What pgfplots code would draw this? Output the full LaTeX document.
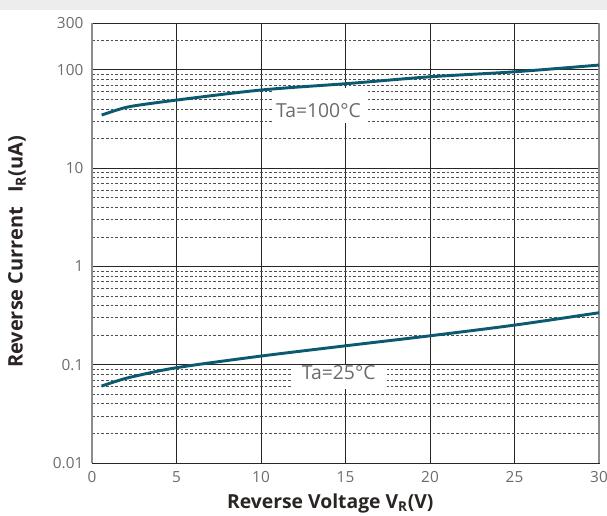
\documentclass[border=0pt]{standalone}
\usepackage{pgfplots}
\pgfplotsset{compat=1.18}
\usepackage{fontspec}
\setmainfont{Open Sans}
\definecolor{curve}{HTML}{0B5A70}
\definecolor{tickc}{HTML}{6E6A68}
\definecolor{gridd}{HTML}{2A2422}
\definecolor{gridm}{HTML}{505050}
\begin{document}
\begin{tikzpicture}[x=1pt,y=1pt]
\useasboundingbox (0,0) rectangle (455.25,386.25);
\fill[black!7] (0,378.75) rectangle (455.25,386.25);
\begin{axis}[
  at={(69pt,39pt)}, anchor=south west,
  scale only axis, width=380.25pt, height=330pt,
  xmin=0, xmax=30, ymode=log, ymin=0.01, ymax=300,
  xtick={0,5,...,30},
  ytick={0.01,0.1,1,10,100,300},
  yticklabels={0.01,0.1,1,10,100,300},
  minor ytick={0.02,0.03,0.04,0.05,0.06,0.07,0.08,0.09,
    0.2,0.3,0.4,0.5,0.6,0.7,0.8,0.9,2,3,4,5,6,7,8,9,
    20,30,40,50,60,70,80,90,200},
  major tick length=0pt, minor tick length=0pt,
  xmajorgrids, ymajorgrids, yminorgrids,
  major grid style={gridd, line width=0.6pt},
  minor grid style={gridm, line width=0.55pt, dash pattern=on 2pt off 1.5pt},
  axis line style={gridd, line width=0.6pt},
  tick label style={font=\fontsize{11.5}{13}\selectfont, text=tickc},
  /pgf/number format/assume math mode=true,
  yticklabel style={xshift=-3pt},
  xticklabel style={yshift=-3pt},
  xlabel={Reverse Voltage V\textsubscript{R}(V)},
  ylabel={Reverse Current\hspace{0.7em}I\textsubscript{R}(uA)},
  x label style={at={(axis description cs:0.47,-0.093)}, anchor=center,
    font=\bfseries\fontsize{14.5}{16}\selectfont, text=gridd},
  y label style={at={(axis description cs:-0.148,0.48)}, anchor=center, rotate=0,
    font=\bfseries\fontsize{15}{17}\selectfont, text=gridd},
  clip=false,
]
\draw[black!45, line width=1.1pt] (rel axis cs:0,0) -- (rel axis cs:0,1);
\draw[black!45, line width=0.8pt] (rel axis cs:1,0) -- (rel axis cs:1,1);
\node[fill=white, inner sep=0pt, minimum width=72pt, minimum height=26pt] at (axis cs:13.49,43.3) {};
\node[fill=white, inner sep=0pt, minimum width=71pt, minimum height=18pt] at (axis cs:14.64,0.075) {};
\addplot[curve, line width=2.2pt, smooth] coordinates {
  (0.57,34.7) (1.5,39.2) (2.4,42.8) (5,49.3) (10,62.4) (15.3,73) (20,85.1) (25,95.6) (30,112)};
\addplot[curve, line width=2.2pt, smooth] coordinates {
  (0.57,0.0607) (1.5,0.0685) (2.4,0.0755) (5,0.0933) (10,0.1225) (15.3,0.158) (20,0.197) (25,0.253) (30,0.338)};
\node[inner sep=0pt, text=tickc, font=\fontsize{14.5}{16}\selectfont] at (axis cs:13.4,38.5) {Ta=100°C};
\node[inner sep=0pt, text=tickc, font=\fontsize{14.5}{16}\selectfont] at (axis cs:14.6,0.0833) {Ta=25°C};
\end{axis}
\end{tikzpicture}
\end{document}
